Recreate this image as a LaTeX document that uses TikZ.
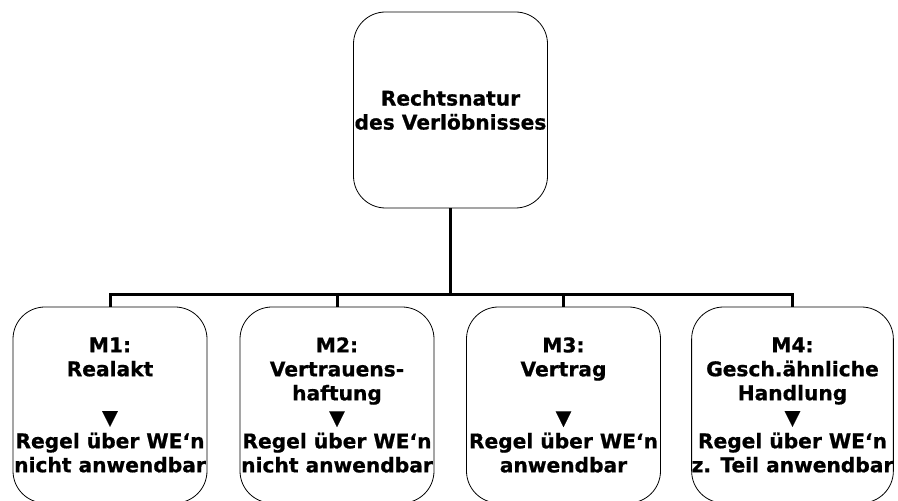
\documentclass[tikz,border=0pt]{standalone}
\usepackage{fontspec}
\setmainfont{DejaVu Sans}[BoldFeatures={FakeBold=0.8}]
\usepackage{tikz}
\usetikzlibrary{positioning}
\tikzstyle{box}=[draw,rounded corners=32pt,line width=0.8pt,minimum width=194pt,minimum height=196pt,inner sep=0pt,align=center,font=\fontsize{20.2pt}{24pt}\selectfont\bfseries]
\tikzstyle{branch}=[draw,line width=3pt]

\begin{document}
\begin{tikzpicture}[x=1pt,y=1pt]
    \useasboundingbox (0,0) rectangle (898,501);
    \node[box] (top) at (450.5,391) {Rechtsnatur\\des Verlöbnisses};
    \foreach \pos/\name/\txt in {{(110,96)/m1/{M1:\\Realakt\\ \\▼\\Regel über WE‘n\\nicht anwendbar}},
        {(337,96)/m2/{M2:\\Vertrauens-\\haftung\\▼\\Regel über WE‘n\\nicht anwendbar}},
        {(563.5,96)/m3/{M3:\\Vertrag\\ \\▼\\Regel über WE‘n\\anwendbar}},
        {(792.5,96)/m4/{M4:\\Gesch.ähnliche\\Handlung\\▼\\Regel über WE‘n\\z. Teil anwendbar}}}
        \node[box] (\name) at \pos {\txt};
    \coordinate (bus) at (450.5,206);
    \path[branch] (top.south) -- (bus);
    \foreach \name in {m1,m2,m3,m4}
        \path[branch] (bus) -| (\name.north);
\end{tikzpicture}
\end{document}
